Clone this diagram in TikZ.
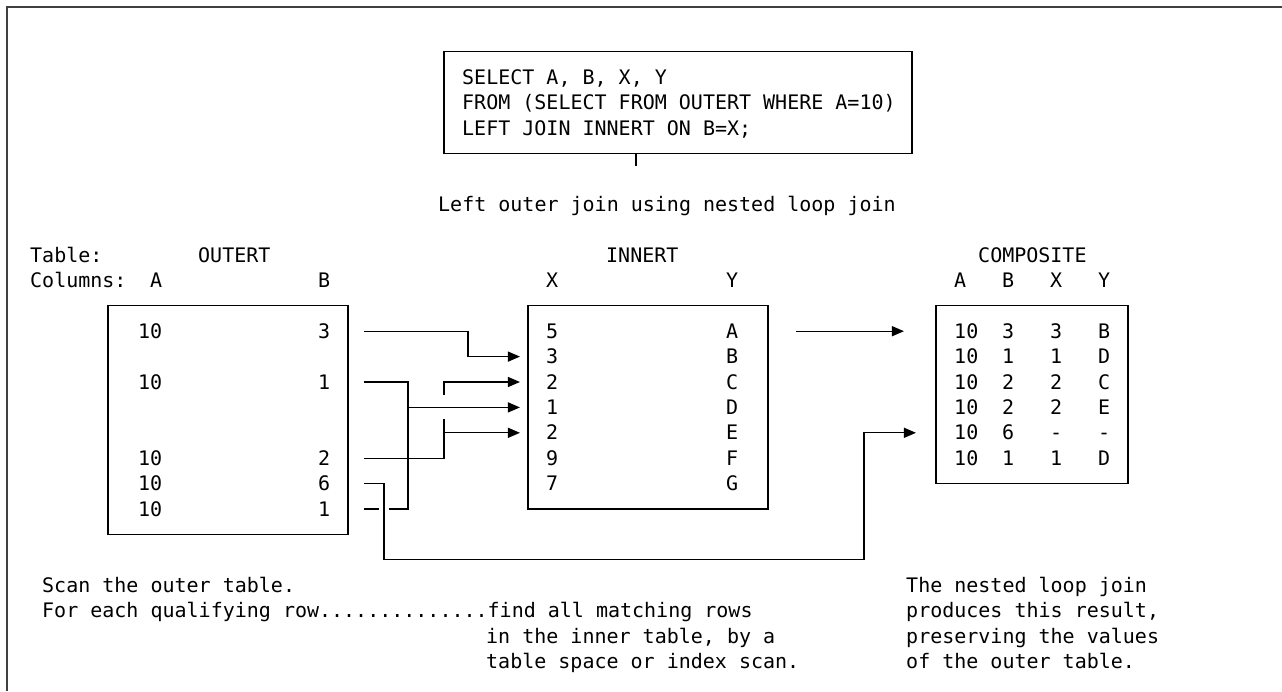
\documentclass[tikz,border=0pt]{standalone}
\usepackage{fontspec}
\setmainfont{DejaVu Sans Mono}
\usetikzlibrary{arrows.meta}
\frenchspacing
\begin{document}
\begin{tikzpicture}[x=1pt,y=1pt]
\useasboundingbox (0,0) rectangle (1282,-691);
\draw[line width=2pt, black!75] (1282,-7) -- (7,-7) -- (7,-691);
\begin{scope}[shift={(30pt,-255pt)}, x=12pt, y=-25.4pt,
  txt/.style={anchor=base west, inner sep=0pt, font=\fontsize{20}{24}\selectfont},
  ln/.style={line width=1.3pt, line cap=butt},
  arr/.style={ln, -{Triangle[length=12pt,width=10pt]}},
  tbox/.style={draw, line width=1.3pt, inner sep=0pt}]
% boxes
\node[tbox, minimum width=468pt, minimum height=101.6pt] (sql) at (54,-6) {};
\node[tbox, minimum width=240pt, minimum height=228.6pt] (outer) at (16.5,6.5) {};
\node[tbox, minimum width=240pt, minimum height=203.2pt] (inner) at (51.5,6) {};
\node[tbox, minimum width=192pt, minimum height=177.8pt] (comp) at (83.5,5.5) {};
\coordinate (tickend) at (50.5,-3.5);
\draw[ln] (sql.south -| tickend) -- (tickend);
% SQL text
\node[txt] (q1) at (36,-6.72) {SELECT A, B, X, Y};
\node[txt] (q2) at (36,-5.72) {FROM (SELECT FROM OUTERT WHERE A=10)};
\node[txt] (q3) at (36,-4.72) {LEFT JOIN INNERT ON B=X;};
\node[txt] (cap) at (34,-1.72) {Left outer join using nested loop join};
% headers
\node[txt] (h1) at (0,0.28) {Table:};
\node[txt] (h2) at (14,0.28) {OUTERT};
\node[txt] (h3) at (48,0.28) {INNERT};
\node[txt] (h4) at (79,0.28) {COMPOSITE};
\node[txt] (c0) at (0,1.28) {Columns:};
\node[txt] (c1) at (10,1.28) {A};
\node[txt] (c2) at (24,1.28) {B};
\node[txt] (c3) at (43,1.28) {X};
\node[txt] (c4) at (58,1.28) {Y};
\node[txt] (c5) at (77,1.28) {A};
\node[txt] (c6) at (81,1.28) {B};
\node[txt] (c7) at (85,1.28) {X};
\node[txt] (c8) at (89,1.28) {Y};
% outer rows
\foreach \r/\b [count=\i] in {3/3,5/1,8/2,9/6,10/1}{
  \node[txt] (oa\i) at (9,\r+0.28) {10};
  \node[txt] (ob\i) at (24,\r+0.28) {\b};
}
% inner rows
\foreach \x/\y [count=\i] in {5/A,3/B,2/C,1/D,2/E,9/F,7/G}{
  \node[txt] (ix\i) at (43,\i+2.28) {\x};
  \node[txt] (iy\i) at (58,\i+2.28) {\y};
}
% composite rows
\foreach \b/\x/\y [count=\i] in {3/3/B,1/1/D,2/2/C,2/2/E,6/-/-,1/1/D}{
  \node[txt] (ka\i) at (77,\i+2.28) {10};
  \node[txt] (kb\i) at (81,\i+2.28) {\b};
  \node[txt] (kx\i) at (85,\i+2.28) {\x};
  \node[txt] (ky\i) at (89,\i+2.28) {\y};
}
% bottom texts
\node[txt] (b1) at (1,13.28) {Scan the outer table.};
\node[txt] (b2) at (1,14.28) {For each qualifying row..............find all matching rows};
\node[txt] (b3) at (38,15.28) {in the inner table, by a};
\node[txt] (b4) at (38,16.28) {table space or index scan.};
\node[txt] (r1) at (73,13.28) {The nested loop join};
\node[txt] (r2) at (73,14.28) {produces this result,};
\node[txt] (r3) at (73,15.28) {preserving the values};
\node[txt] (r4) at (73,16.28) {of the outer table.};
% connectors
\coordinate (s3) at (27.83,3);
\coordinate (s5) at (27.83,5);
\coordinate (s8) at (27.83,8);
\coordinate (s9) at (27.83,9);
\coordinate (s10) at (27.83,10);
\coordinate (t4) at (40.83,4);
\coordinate (t5) at (40.83,5);
\coordinate (t6) at (40.83,6);
\coordinate (t7) at (40.83,7);
\draw[arr] (s3) -- (36.5,3) -- (36.5,4) -- (t4);
\draw[ln] (s5) -- (31.5,5) -- (31.5,10) -- (29.95,10);
\draw[ln] (29.05,10) -- (s10);
\draw[arr] (31.5,6) -- (t6);
\draw[ln] (s8) -- (34.5,8) -- (34.5,6.47);
\draw[arr] (34.5,5.53) -- (34.5,5) -- (t5);
\draw[arr] (34.5,7) -- (t7);
\coordinate (p7) at (73.83,7);
\draw[arr] (s9) -- (29.5,9) -- (29.5,12) -- (69.5,12) -- (69.5,7) -- (p7);
\coordinate (m0) at (63.83,3);
\coordinate (m1) at (72.83,3);
\draw[arr] (m0) -- (m1);
\end{scope}
\end{tikzpicture}
\end{document}
